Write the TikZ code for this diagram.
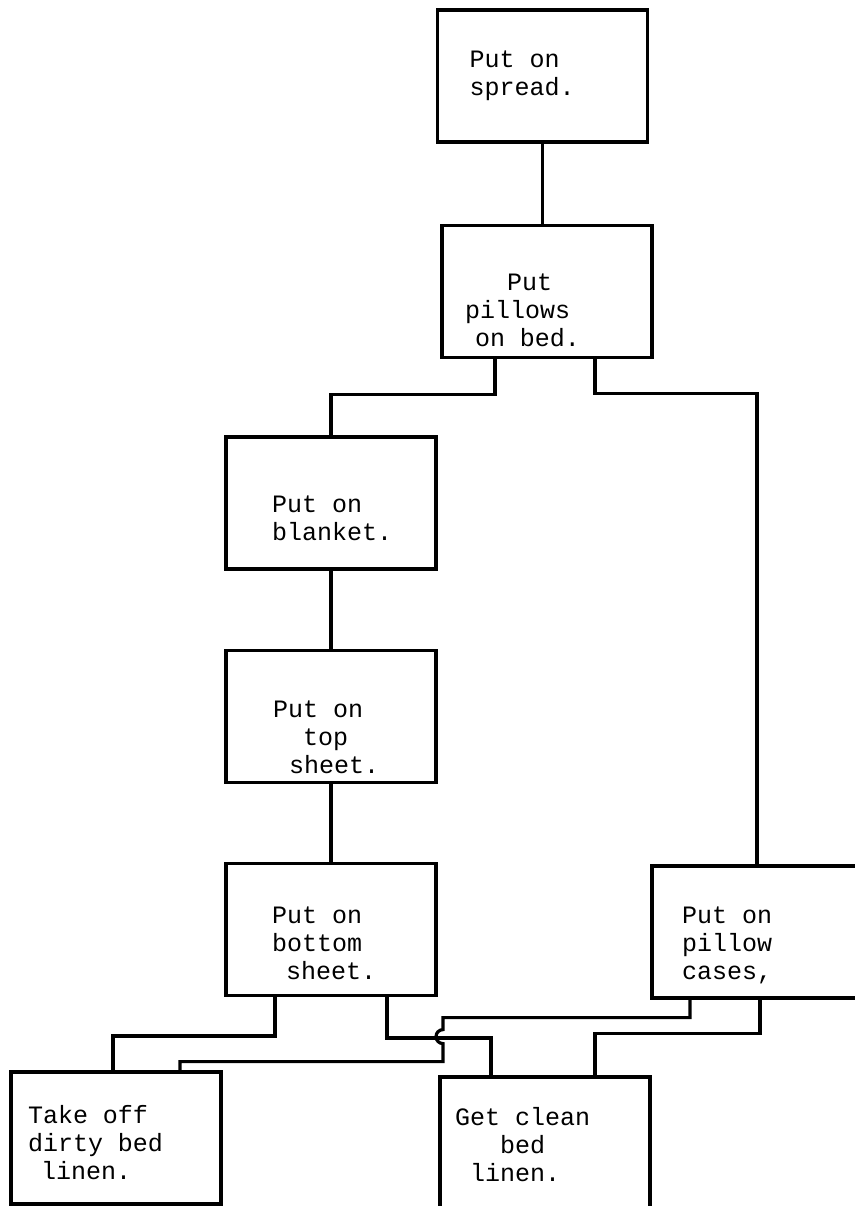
\documentclass[tikz,border=0pt]{standalone}
\usepackage{fontspec}
\setmainfont{Liberation Mono}
\usepackage{tikz}
\usetikzlibrary{positioning}
\newcommand{\ind}[1]{\spaceskip=0.6em\relax\hspace*{#1pt}}
\newcommand{\upstrut}[1]{\rule{0pt}{#1pt}}
\newcommand{\downstrut}{\rule[-6pt]{0pt}{0pt}}
\tikzstyle{task} = [rectangle, draw = black, line width=3.2pt, minimum width=210pt, minimum height=132pt, text width=180pt, inner xsep=15pt, inner ysep=2pt, align=left, font=\fontsize{25}{28}\selectfont]
\tikzstyle{link} = [line width=3.2pt]

\begin{document}
\begin{tikzpicture}[x=1pt, y=-1pt]
	\useasboundingbox (0,0) rectangle (854,1206);
	\node (spread) [task] at (542.5,76) {\ind{17}\upstrut{18}Put on\\ \ind{17}spread.\downstrut};
	\node (pillows) [task, below=80pt of spread, xshift=4.5pt] {\ind{50}\upstrut{61}Put\\ \ind{8}pillows\\ \ind{18}on bed.\downstrut};
	\node (blanket) [task] at (331,503) {\ind{31}\upstrut{52}Put on\\ \ind{31}blanket.\downstrut};
	\node (topsheet) [task, below=78pt of blanket] {\ind{32}\upstrut{64}Put on\\ \ind{62}top\\ \ind{48}sheet.\downstrut};
	\node (bottomsheet) [task, below=78pt of topsheet] {\ind{31}\upstrut{51}Put on\\ \ind{31}bottom\\ \ind{45}sheet.\downstrut};
	\node (cases) [task] at (757,932) {\ind{15}\upstrut{44}Put on\\ \ind{15}pillow\\ \ind{15}cases,\downstrut};
	\node (takeoff) [task] at (116,1138) {\ind{2}\upstrut{32}Take off\\ \ind{2}dirty bed\\ \ind{15}linen.\downstrut};
	\node (clean) [task] at (545,1143) {\ind{0}\upstrut{26}Get clean\\ \ind{45}bed\\ \ind{15}linen.\downstrut};
	
	\draw [link] (spread.south) -- (spread.south |- pillows.north);
	\draw [link] ([xshift=-52pt]pillows.south) -- ++(0,36) -| (blanket.north);
	\draw [link] ([xshift=48pt]pillows.south) -- ++(0,35) -| (cases.north);
	\draw [link] (blanket) -- (topsheet);
	\draw [link] (topsheet) -- (bottomsheet);
	\draw [link] ([xshift=-56pt]bottomsheet.south) -- ++(0,39) -| ([xshift=-3pt]takeoff.north);
	\draw [link] ([xshift=56pt]bottomsheet.south) -- ++(0,41) -| ([xshift=-54pt]clean.north);
	\draw [link] ([xshift=3pt]cases.south) -- ++(0,34) -| ([xshift=50pt]clean.north);
	% jumps over the line to clean bed linen
	\draw [link] ([xshift=-67pt]cases.south) -- ++(0,18) -- ++(-247,0) -- ++(0,12) arc[start angle=270, end angle=90, radius=7] -- ++(0,18) -| ([xshift=64pt]takeoff.north);
\end{tikzpicture}
\end{document}
